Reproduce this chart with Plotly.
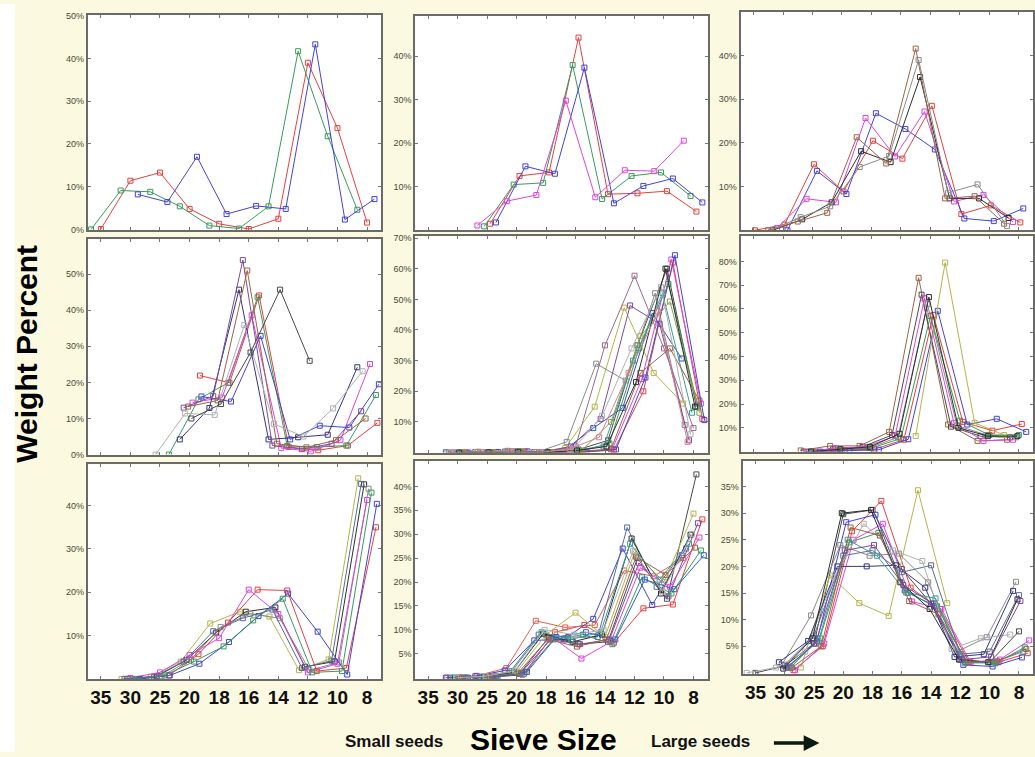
import plotly.graph_objects as go

# ---------------- data ----------------
SIEVE_LABELS = ["35", "30", "25", "20", "18", "16", "14", "12", "10", "8"]
SIEVE_INDEX = list(range(10))

RED = "#e2413f"
GREEN = "#3a9a5c"
BLUE = "#4343d4"
MAGENTA = "#dc45dc"
DARK = "#4a4a4a"
BLACK = "#2e2e2e"
GRAY = "#8a8a8a"
LGRAY = "#b0b0b0"
BROWN = "#9a6448"
OLIVE = "#b4b44c"
NAVY = "#35357f"
VIOLET = "#7a4c9c"
TEAL = "#3c9c9c"
PINK = "#d48090"
MAUVE = "#9a6a8a"
SLATE = "#5a6a9a"

# Panel 1 (top left)
P1_VALUES = [
    [0.1, 11.4, 13.3, 4.8, 1.3, 0.1, 2.5, 39.0, 23.7, 1.6],
    [0.0, 9.1, 8.8, 5.4, 0.9, 0.2, 5.4, 41.7, 21.8, 4.6],
    [None, 8.2, 6.4, 17.0, 3.6, 5.5, 4.8, 43.3, 2.3, 7.1],
]
P1_COLORS = [RED, GREEN, BLUE]
P1_OFFSETS = [0.0, -0.33, 0.25]

# Panel 2 (top middle)
P2_VALUES = [
    [None, None, 1.5, 12.5, 13.3, 44.3, 8.3, 8.5, 9.0, 4.3],
    [None, None, 0.9, 10.5, 10.9, 38.0, 7.2, 12.5, 13.3, 7.9],
    [None, None, 1.8, 14.7, 13.0, 37.4, 6.2, 10.2, 11.9, 6.4],
    [None, None, 1.1, 6.7, 8.1, 29.8, 7.6, 13.8, 13.6, 20.6],
]
P2_COLORS = [RED, GREEN, BLUE, MAGENTA]
P2_OFFSETS = [0.1, -0.1, 0.3, -0.33]

# Panel 3 (top right)
P3_VALUES = [
    [0.0, 1.3, 15.1, 8.9, 20.5, 16.4, 28.5, 3.7, 5.7, 1.8],
    [None, 0.0, 13.6, 8.3, 26.8, 23.2, 18.5, 2.7, 2.1, 5.0],
    [None, 0.5, 7.2, 6.4, 25.7, 16.9, 27.2, 6.6, 8.1, 1.9],
    [None, 0.0, 2.5, 6.4, 18.1, 15.6, 35.1, 7.3, 7.3, 2.8],
    [None, 0.0, 2.0, 4.0, 21.3, 15.3, 41.6, 7.3, 7.8, 1.5],
    [None, 0.0, 3.0, 5.5, 14.5, 17.0, 39.0, 8.6, 10.5, 1.0],
]
P3_COLORS = [RED, BLUE, MAGENTA, BLACK, BROWN, GRAY]
P3_OFFSETS = [0.05, 0.15, -0.2, -0.35, -0.5, -0.4]

# Panel 4 (middle left)
P4_VALUES = [
    [None, None, None, 21.9, 19.9, 44.1, 2.1, 1.2, 2.5, 8.8],
    [None, None, 0.0, 15.3, 19.9, 43.6, 2.4, 2.1, 2.5, 16.5],
    [None, None, None, 14.4, 15.8, 38.6, 1.8, 0.9, 4.0, 25.1],
    [None, None, None, 16.1, 14.7, 32.9, 4.2, 8.0, 7.5, 19.5],
    [None, None, None, 4.2, 12.9, 45.7, 4.2, 4.8, 5.5, 24.2],
    [None, None, None, 13.0, 16.2, 53.9, 2.5, 1.5, 3.0, 12.0],
    [None, None, None, 13.3, 15.0, 51.0, 3.0, 2.0, 4.0, 10.0],
    [None, None, 0.0, 11.4, 11.0, 35.9, 8.5, 5.0, 12.8, 23.1],
    [None, None, None, 10.0, 14.0, 28.3, 45.7, 26.0, None, None],
]
P4_COLORS = [RED, GREEN, MAGENTA, BLUE, NAVY, VIOLET, BROWN, LGRAY, DARK]
P4_OFFSETS = [0.35, 0.3, 0.1, 0.4, -0.33, -0.2, -0.05, -0.15, 0.06]

# Panel 5 (center)
P5_VALUES = [
    [None, 0.0, 0.2, 0.3, 0.1, 0.2, 0.8, 20.0, 62.0, 11.0],
    [None, 0.0, 0.2, 0.3, 0.1, 0.3, 1.2, 24.0, 63.0, 16.0],
    [None, 0.0, 0.2, 0.4, 0.1, 0.4, 1.0, 24.5, 64.4, 10.6],
    [None, 0.1, 0.2, 0.3, 0.2, 0.6, 8.0, 14.6, 45.5, 30.7],
    [None, 0.0, 0.2, 0.5, 0.2, 1.5, 15.0, 47.3, 26.0, 16.0],
    [None, 0.0, 0.2, 0.3, 0.2, 1.0, 4.0, 35.0, 60.0, 15.0],
    [None, 0.0, 0.3, 0.6, 0.2, 3.5, 29.0, 23.5, 52.0, 9.0],
    [None, 0.0, 0.2, 0.4, 0.1, 2.0, 35.0, 57.7, 34.0, 8.0],
    [None, 0.0, 0.2, 0.4, 0.2, 2.0, 11.0, 48.0, 42.0, 4.0],
    [None, 0.0, 0.1, 0.3, 0.1, 0.5, 3.0, 34.0, 55.0, 15.0],
    [None, 0.0, 0.1, 0.3, 0.1, 0.8, 2.0, 30.0, 52.0, 13.0],
    [None, 0.0, 0.1, 0.3, 0.1, 0.5, 1.0, 26.0, 34.0, 17.0],
    [None, 0.0, 0.1, 0.3, 0.1, 0.6, 10.0, 38.0, 49.3, 13.0],
    [None, 0.0, 0.1, 0.3, 0.1, 1.0, 12.0, 34.0, 54.0, 6.0],
    [None, 0.0, 0.1, 0.3, 0.1, 0.7, 2.0, 23.0, 60.0, 15.0],
    [None, 0.0, 0.2, 0.3, 0.1, 1.2, 5.0, 26.0, 46.0, 3.5],
]
P5_COLORS = [RED, MAGENTA, BLUE, "#3050c0", OLIVE, DARK, GRAY, MAUVE, VIOLET,
             GREEN, TEAL, BROWN, "#90a050", LGRAY, BLACK, PINK]
P5_OFFSETS = [0.3, 0.25, 0.37, -0.4, -0.35, 0.1, -0.3, 0.0, -0.15,
              0.15, -0.05, 0.2, 0.2, -0.1, 0.05, -0.2]

# Panel 6 (middle right)
P6_VALUES = [
    [None, None, 0.5, 2.4, 2.4, 8.3, 73.1, 11.4, 4.5, 5.0],
    [None, None, 0.0, 1.0, 2.0, 7.0, 66.0, 10.5, 6.5, 6.0],
    [None, None, 0.0, 1.5, 2.0, 6.5, 64.5, 12.0, 4.5, 5.0],
    [None, None, 0.0, 1.0, 1.5, 6.0, 62.0, 11.0, 7.0, 6.0],
    [None, None, 0.0, 0.5, 1.5, 5.5, 57.0, 13.0, 7.0, 7.0],
    [None, None, 0.0, 0.5, 1.0, 5.0, 57.5, 12.5, 8.8, 11.6],
    [None, None, 0.0, 0.3, 0.8, 5.2, 59.2, 11.4, 13.8, 8.3],
    [None, None, None, None, None, 6.6, 79.5, 12.1, 7.0, None],
    [None, None, 0.0, 1.0, 2.0, 7.5, 65.0, 10.0, 6.5, 6.5],
]
P6_COLORS = [BROWN, DARK, MAGENTA, GRAY, GREEN, RED, BLUE, OLIVE, BLACK]
P6_OFFSETS = [-0.4, -0.3, -0.2, -0.1, 0.0, 0.1, 0.25, 0.5, -0.05]

# Panel 7 (bottom left)
P7_VALUES = [
    [None, 0.0, 0.5, 4.0, 12.8, 15.5, 14.4, 2.0, 4.5, 46.3],
    [None, 0.0, 0.6, 4.4, 10.7, 15.5, 16.5, 2.8, 4.0, 44.9],
    [None, 0.0, 0.6, 4.5, 12.0, 15.0, 14.0, 2.0, 3.8, 43.9],
    [None, 0.2, 1.5, 5.5, 9.4, 20.6, 15.0, 1.5, 3.5, 41.3],
    [None, 0.0, 0.8, 5.7, 13.0, 20.6, 20.4, 1.8, 2.5, 35.0],
    [None, 0.0, 0.8, 3.5, 8.5, 14.5, 19.7, 10.9, 1.0, 40.4],
    [None, 0.0, 0.8, 4.0, 7.5, 13.5, 18.5, 1.5, 1.8, 43.0],
    [None, 0.0, 0.5, 4.0, 11.0, 14.0, 16.0, 2.5, 4.2, 45.0],
]
P7_COLORS = [OLIVE, BLACK, GRAY, MAGENTA, RED, BLUE, GREEN, SLATE]
P7_OFFSETS = [-0.3, -0.1, 0.05, 0.0, 0.3, 0.33, 0.15, -0.2]

# Panel 8 (bottom middle)
P8_VALUES = [
    [None, 0.0, 0.3, 1.2, 9.5, 11.0, 7.3, 14.5, 15.3, 33.1],
    [None, 0.0, 0.4, 2.0, 11.9, 10.5, 11.0, 22.4, 21.2, 25.0],
    [None, 0.0, 0.3, 1.5, 7.8, 8.0, 12.3, 27.0, 15.2, 25.6],
    [None, 0.0, 0.2, 1.0, 9.0, 8.5, 8.5, 31.4, 19.0, 27.0],
    [None, 0.0, 0.1, 0.8, 8.5, 7.0, 7.5, 25.0, 16.5, 42.5],
    [None, 0.0, 0.2, 1.2, 9.0, 13.6, 8.5, 26.2, 20.0, 34.3],
    [None, 0.0, 0.2, 1.0, 8.0, 7.0, 8.0, 24.0, 17.0, 32.3],
    [None, 0.0, 0.1, 0.6, 8.5, 4.0, 7.5, 23.0, 19.0, 29.3],
    [None, 0.0, 0.2, 1.0, 9.2, 7.5, 9.0, 29.1, 17.6, 29.9],
    [None, 0.0, 0.1, 0.8, 8.0, 9.0, 7.0, 21.0, 17.6, 26.6],
    [None, 0.0, 0.2, 1.2, 8.5, 9.5, 8.0, 20.5, 18.5, 25.6],
    [None, 0.0, 0.2, 1.4, 9.5, 8.0, 9.5, 28.0, 20.5, 28.0],
    [None, 0.0, 0.2, 1.0, 8.0, 6.5, 8.0, 25.3, 21.5, 27.2],
    [None, 0.0, 0.3, 1.5, 10.0, 9.0, 10.0, 26.5, 18.0, 30.0],
]
P8_COLORS = [RED, "#e06050", BLUE, SLATE, DARK, OLIVE, VIOLET, MAGENTA, BLACK,
             GREEN, "#3060c0", TEAL, BROWN, LGRAY]
P8_OFFSETS = [0.3, -0.35, -0.4, -0.25, 0.1, 0.0, 0.15, 0.2, -0.1,
              0.25, 0.35, -0.15, 0.05, -0.05]

# Panel 9 (bottom right)
P9_VALUES = [
    [0.0, 1.3, 5.5, 29.8, 30.6, 19.5, 13.0, 2.5, 2.0, 7.8],
    [None, 0.5, 5.0, 26.6, 32.3, 16.0, 12.0, 2.0, 2.0, 3.7],
    [None, 1.0, 6.0, 28.3, 29.7, 15.5, 12.5, 1.5, 1.2, 2.9],
    [None, 1.0, 18.3, 13.1, 10.7, 34.3, 13.1, None, None, None],
    [None, 1.5, 10.8, 24.0, 22.0, 22.4, 17.0, 4.0, 6.7, 17.1],
    [None, 0.5, 5.5, 25.0, 28.0, 13.4, 12.0, 2.0, 2.5, 6.1],
    [None, 1.0, 6.5, 24.5, 26.3, 15.0, 12.5, 2.0, 1.8, 4.8],
    [None, 2.0, 6.0, 20.0, 20.0, 20.2, 16.0, 3.0, 3.5, 15.4],
    [None, 1.5, 7.0, 22.0, 23.0, 18.9, 20.2, 3.5, 4.0, 14.6],
    [0.0, 1.0, 4.0, 18.0, 28.0, 23.0, 21.0, 4.5, 6.5, 7.2],
    [None, 1.2, 6.0, 25.0, 22.0, 15.1, 14.0, 1.8, 2.0, 4.0],
    [None, 0.8, 6.5, 30.0, 30.6, 17.0, 12.0, 2.5, 2.0, 13.8],
    [None, 1.0, 5.0, 27.3, 25.8, 13.5, 11.0, 2.0, 2.2, 4.5],
    [None, 1.0, 5.5, 23.0, 24.0, 16.5, 13.0, 2.5, 3.0, 13.5],
]
P9_COLORS = [DARK, RED, BLUE, OLIVE, GRAY, MAGENTA, GREEN, NAVY, SLATE, LGRAY,
             TEAL, BLACK, BROWN, VIOLET]
P9_OFFSETS = [0.0, 0.3, 0.1, 0.55, -0.1, 0.35, 0.2, -0.2, 0.0, -0.3,
              0.15, -0.05, 0.25, 0.05]

# ---------------- layout geometry (pixels) ----------------
W, H = 1035, 757
PANEL_BOXES = [  # left, top, right, bottom
    (88, 11, 382, 229), (416, 12, 709, 229), (742, 8, 1035, 229),
    (88, 238, 382, 456), (416, 235, 709, 454), (742, 235, 1035, 453),
    (88, 466, 382, 683), (416, 463, 709, 683), (744, 463, 1035, 678),
]
Y_RANGES = [
    (-0.2, 50.2), (0, 49.3), (0, 50.0),
    (0, 59.7), (0, 70.6), (0, 90.6),
    (0, 49.5), (-0.25, 45.2), (-0.2, 39.7),
]
Y_TICKS = [
    [0, 10, 20, 30, 40, 50], [10, 20, 30, 40], [10, 20, 30, 40],
    [0, 10, 20, 30, 40, 50], [10, 20, 30, 40, 50, 60, 70],
    [10, 20, 30, 40, 50, 60, 70, 80],
    [10, 20, 30, 40], [5, 10, 15, 20, 25, 30, 35, 40], [5, 10, 15, 20, 25, 30, 35],
]
X_RANGE = (-0.44, 9.48)

PANELS = [
    (P1_VALUES, P1_COLORS, P1_OFFSETS), (P2_VALUES, P2_COLORS, P2_OFFSETS),
    (P3_VALUES, P3_COLORS, P3_OFFSETS), (P4_VALUES, P4_COLORS, P4_OFFSETS),
    (P5_VALUES, P5_COLORS, P5_OFFSETS), (P6_VALUES, P6_COLORS, P6_OFFSETS),
    (P7_VALUES, P7_COLORS, P7_OFFSETS), (P8_VALUES, P8_COLORS, P8_OFFSETS),
    (P9_VALUES, P9_COLORS, P9_OFFSETS),
]

FONT = "Arial, 'Liberation Sans', sans-serif"

fig = go.Figure()

for k, (values, colors, offsets) in enumerate(PANELS, start=1):
    xref = "x" if k == 1 else f"x{k}"
    yref = "y" if k == 1 else f"y{k}"
    for vals, col, off in zip(values, colors, offsets):
        xs = [i + off for i in SIEVE_INDEX]
        fig.add_trace(go.Scatter(
            x=xs, y=vals, mode="lines+markers",
            line=dict(color=col, width=1),
            marker=dict(symbol="square-open", size=5, color=col,
                        line=dict(width=1, color=col)),
            connectgaps=False, hoverinfo="skip",
            xaxis=xref, yaxis=yref, showlegend=False,
        ))

layout_axes = {}
for k, (l, t, r, b) in enumerate(PANEL_BOXES, start=1):
    xname = "xaxis" if k == 1 else f"xaxis{k}"
    yname = "yaxis" if k == 1 else f"yaxis{k}"
    yanchor = "y" if k == 1 else f"y{k}"
    xanchor = "x" if k == 1 else f"x{k}"
    bottom_row = k >= 7
    layout_axes[xname] = dict(
        domain=[l / W, r / W], anchor=yanchor, range=list(X_RANGE),
        tickmode="array", tickvals=SIEVE_INDEX,
        ticktext=[f"<b>{s}</b>" for s in SIEVE_LABELS],
        showticklabels=bottom_row,
        tickfont=dict(family=FONT, size=19, color="#111111"),
        ticks="inside", ticklen=3, tickcolor="#777777", tickwidth=1,
        showline=True, linecolor="#6a6a6a", linewidth=2, mirror="allticks",
        showgrid=False, zeroline=False, fixedrange=True,
    )
    layout_axes[yname] = dict(
        domain=[1 - b / H, 1 - t / H], anchor=xanchor,
        range=list(Y_RANGES[k - 1]), tickmode="array",
        tickvals=Y_TICKS[k - 1],
        ticktext=[f"{v}%" for v in Y_TICKS[k - 1]],
        tickfont=dict(family=FONT, size=9, color="#4a4a3a"),
        ticks="inside", ticklen=3, tickcolor="#777777", tickwidth=1,
        showline=True, linecolor="#6a6a6a", linewidth=2, mirror="allticks",
        showgrid=False, zeroline=False, fixedrange=True,
    )

fig.update_layout(**layout_axes)

annotations = [
    dict(text="<b>Weight Percent</b>", x=27 / W, y=1 - 354 / H,
         xref="paper", yref="paper", showarrow=False, textangle=-90,
         font=dict(family=FONT, size=30, color="#000000"),
         xanchor="center", yanchor="middle"),
    dict(text="<b>Small seeds</b>", x=395 / W, y=1 - 746 / H,
         xref="paper", yref="paper", showarrow=False,
         font=dict(family=FONT, size=17, color="#111111"),
         xanchor="center", yanchor="middle"),
    dict(text="<b>Sieve Size</b>", x=545 / W, y=1 - 744 / H,
         xref="paper", yref="paper", showarrow=False,
         font=dict(family=FONT, size=30, color="#000000"),
         xanchor="center", yanchor="middle"),
    dict(text="<b>Large seeds</b>", x=702 / W, y=1 - 746 / H,
         xref="paper", yref="paper", showarrow=False,
         font=dict(family=FONT, size=17, color="#111111"),
         xanchor="center", yanchor="middle"),
    dict(text="", x=821 / W, y=1 - 748 / H, ax=-47, ay=0,
         xref="paper", yref="paper", axref="pixel", ayref="pixel",
         showarrow=True, arrowhead=2, arrowsize=0.9, arrowwidth=3.5,
         arrowcolor="#0a1a10"),
]

fig.update_layout(
    width=W, height=H,
    margin=dict(l=0, r=0, t=0, b=0),
    paper_bgcolor="#fbf9e0",
    plot_bgcolor="#ffffff",
    showlegend=False,
    annotations=annotations,
    shapes=[dict(type="rect", xref="paper", yref="paper",
                 x0=0, x1=15 / W, y0=0, y1=1,
                 fillcolor="#ffffff", line=dict(width=0), layer="below")],
)

fig.write_html(
    "out.html",
    config={"displayModeBar": False},
    post_script=("document.body.style.margin='0';"
                 "document.body.style.padding='0';"
                 "document.documentElement.style.overflow='hidden';"),
)
